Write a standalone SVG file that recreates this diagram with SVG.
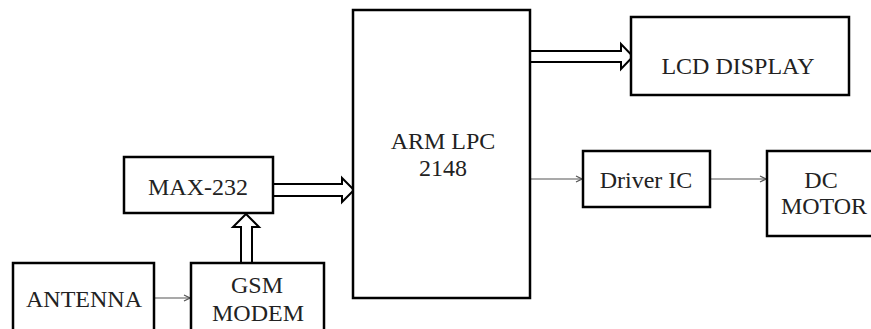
<svg xmlns="http://www.w3.org/2000/svg" width="871" height="329" viewBox="0 0 871 329">
<style>
.box{fill:#fff;stroke:#000;stroke-width:2.5}
.t{font-family:"Liberation Serif","Times New Roman",serif;font-size:24px;fill:#222;text-anchor:middle}
.thin{stroke:#555;stroke-width:1.2;fill:none}
.blk{fill:#fff;stroke:#000;stroke-width:2;stroke-linejoin:miter}
</style>
<defs>
<marker id="ah" markerWidth="8" markerHeight="8" refX="7" refY="4" orient="auto" markerUnits="userSpaceOnUse">
<path d="M1,1 L7,4 L1,7" fill="none" stroke="#555" stroke-width="1.2"/>
</marker>
</defs>
<rect width="871" height="329" fill="#fff"/>
<g id="connectors">
<line class="thin" x1="154" y1="298" x2="190" y2="298" marker-end="url(#ah)"/>
<line class="thin" x1="531" y1="179" x2="582" y2="179" marker-end="url(#ah)"/>
<line class="thin" x1="711" y1="179" x2="766" y2="179" marker-end="url(#ah)"/>
<path class="blk" d="M273,184 H342 V178 L354,190 L342,202 V196 H273"/>
<path class="blk" d="M531,51 H621 V44 L633,56.5 L621,69 V62 H531"/>
<path class="blk" d="M241,263 V227 H233 L246,214 L259,227 H252 V263"/>
</g>
<g id="arm">
<rect class="box" x="353" y="10" width="177" height="288"/>
<text class="t" x="443" y="149">ARM LPC</text>
<text class="t" x="443" y="176">2148</text>
</g>
<g id="lcd">
<rect class="box" x="631" y="17" width="218" height="78"/>
<text class="t" x="738" y="74">LCD DISPLAY</text>
</g>
<g id="max232">
<rect class="box" x="124" y="157" width="149" height="56"/>
<text class="t" x="198" y="195">MAX-232</text>
</g>
<g id="antenna">
<rect class="box" x="13" y="263" width="141" height="80"/>
<text class="t" x="84" y="307">ANTENNA</text>
</g>
<g id="gsm">
<rect class="box" x="191" y="263" width="133" height="80"/>
<text class="t" x="257" y="293">GSM</text>
<text class="t" x="258" y="321">MODEM</text>
</g>
<g id="driver">
<rect class="box" x="583" y="151" width="127" height="56"/>
<text class="t" x="646" y="188">Driver IC</text>
</g>
<g id="dcmotor">
<rect class="box" x="767" y="151" width="110" height="85"/>
<text class="t" x="821" y="188">DC</text>
<text class="t" x="824" y="214">MOTOR</text>
</g>
</svg>
